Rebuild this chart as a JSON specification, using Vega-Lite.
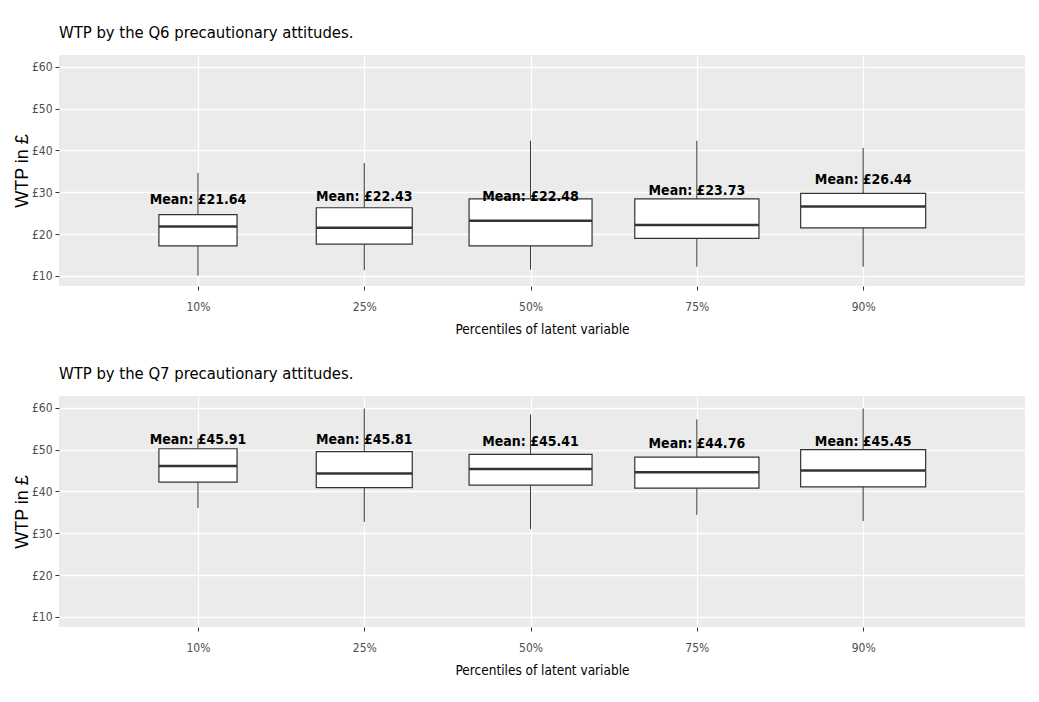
{
  "$schema": "https://vega.github.io/schema/vega-lite/v6.json",
  "background": "white",
  "padding": {"left": 13, "top": 24, "right": 5, "bottom": 5},
  "config": {
    "view": {"fill": "#ebebeb", "stroke": null},
    "font": "DejaVu Sans Condensed, Liberation Sans, sans-serif",
    "concat": {"spacing": 29},
    "title": {"fontSize": 16.5, "fontWeight": "normal", "color": "black", "anchor": "start", "frame": "group", "offset": 14, "font": "DejaVu Sans Condensed, Liberation Sans, sans-serif"},
    "axis": {"domain": false, "labelColor": "#4d4d4d", "labelFontSize": 12, "labelFont": "DejaVu Sans Condensed, Liberation Sans, sans-serif", "tickColor": "#333333", "tickSize": 4, "gridColor": "white", "titleColor": "black", "titleFontWeight": "normal"}
  },
  "datasets": {
    "q6": [
      {"pct": "10%", "lower": 10.1, "q1": 17.2, "median": 21.8, "q3": 24.65, "upper": 34.6, "mean": 21.64, "n": 61, "label": "Mean: £21.64"},
      {"pct": "25%", "lower": 11.4, "q1": 17.6, "median": 21.5, "q3": 26.3, "upper": 37.0, "mean": 22.43, "n": 92, "label": "Mean: £22.43"},
      {"pct": "50%", "lower": 11.5, "q1": 17.2, "median": 23.2, "q3": 28.4, "upper": 42.3, "mean": 22.48, "n": 151, "label": "Mean: £22.48"},
      {"pct": "75%", "lower": 12.2, "q1": 19.0, "median": 22.2, "q3": 28.4, "upper": 42.3, "mean": 23.73, "n": 154, "label": "Mean: £23.73"},
      {"pct": "90%", "lower": 12.2, "q1": 21.5, "median": 26.6, "q3": 29.75, "upper": 40.6, "mean": 26.44, "n": 156, "label": "Mean: £26.44"}
    ],
    "q7": [
      {"pct": "10%", "lower": 36.0, "q1": 42.2, "median": 46.1, "q3": 50.2, "upper": 52.6, "mean": 45.91, "n": 61, "label": "Mean: £45.91"},
      {"pct": "25%", "lower": 32.7, "q1": 40.9, "median": 44.3, "q3": 49.5, "upper": 59.8, "mean": 45.81, "n": 92, "label": "Mean: £45.81"},
      {"pct": "50%", "lower": 31.0, "q1": 41.5, "median": 45.35, "q3": 48.85, "upper": 58.4, "mean": 45.41, "n": 151, "label": "Mean: £45.41"},
      {"pct": "75%", "lower": 34.4, "q1": 40.8, "median": 44.6, "q3": 48.2, "upper": 57.2, "mean": 44.76, "n": 154, "label": "Mean: £44.76"},
      {"pct": "90%", "lower": 32.9, "q1": 41.1, "median": 45.0, "q3": 50.0, "upper": 59.8, "mean": 45.45, "n": 156, "label": "Mean: £45.45"}
    ]
  },
  "vconcat": [
    {
      "width": 966, "height": 231,
      "title": {"text": "WTP by the Q6 precautionary attitudes."},
      "data": {"name": "q6"},
      "encoding": {
        "x": {"field": "pct", "type": "ordinal", "sort": ["10%", "25%", "50%", "75%", "90%"],
              "scale": {"type": "point", "padding": 0.9045, "align": 0.462},
              "axis": {"title": "Percentiles of latent variable", "labelAngle": 0, "grid": true, "gridWidth": 1.2, "labelPadding": 11, "titleFontSize": 13.5, "titlePadding": 10}}
      },
      "layer": [
        {"mark": {"type": "rule", "color": "#333333", "strokeWidth": 1},
         "encoding": {
           "y": {"field": "lower", "type": "quantitative",
                 "scale": {"domain": [7.6, 62.8], "nice": false, "zero": false},
                 "axis": {"title": "WTP in £", "titleFont": "Liberation Sans", "titleFontSize": 18, "titlePadding": 0,
                          "values": [10, 15, 20, 25, 30, 35, 40, 45, 50, 55, 60],
                          "labelExpr": "datum.value % 10 == 0 ? '£' + datum.value : ''",
                          "gridWidth": {"condition": {"test": "datum.value % 10 != 0", "value": 0.7}, "value": 1.3},
                          "tickOpacity": {"condition": {"test": "datum.value % 10 != 0", "value": 0}, "value": 1},
                          "labelPadding": 3}},
           "y2": {"field": "upper"}}},
        {"mark": {"type": "bar", "fill": "white", "stroke": "#333333", "strokeWidth": 1.2},
         "encoding": {
           "y": {"field": "q1", "type": "quantitative"},
           "y2": {"field": "q3"},
           "size": {"field": "n", "type": "quantitative", "scale": {"type": "sqrt", "domain": [0, 156], "range": [0, 125]}, "legend": null}}},
        {"mark": {"type": "tick", "color": "#333333", "thickness": 2.5, "opacity": 1},
         "encoding": {
           "y": {"field": "median", "type": "quantitative"},
           "size": {"field": "n", "type": "quantitative", "legend": null}}},
        {"mark": {"type": "text", "fontWeight": "bold", "fontSize": 14, "dy": -27, "color": "black"},
         "encoding": {
           "y": {"field": "mean", "type": "quantitative"},
           "text": {"field": "label"}}}
      ]
    },
    {
      "width": 966, "height": 231,
      "title": {"text": "WTP by the Q7 precautionary attitudes."},
      "data": {"name": "q7"},
      "encoding": {
        "x": {"field": "pct", "type": "ordinal", "sort": ["10%", "25%", "50%", "75%", "90%"],
              "scale": {"type": "point", "padding": 0.9045, "align": 0.462},
              "axis": {"title": "Percentiles of latent variable", "labelAngle": 0, "grid": true, "gridWidth": 1.2, "labelPadding": 11, "titleFontSize": 13.5, "titlePadding": 10}}
      },
      "layer": [
        {"mark": {"type": "rule", "color": "#333333", "strokeWidth": 1},
         "encoding": {
           "y": {"field": "lower", "type": "quantitative",
                 "scale": {"domain": [7.6, 62.8], "nice": false, "zero": false},
                 "axis": {"title": "WTP in £", "titleFont": "Liberation Sans", "titleFontSize": 18, "titlePadding": 0,
                          "values": [10, 15, 20, 25, 30, 35, 40, 45, 50, 55, 60],
                          "labelExpr": "datum.value % 10 == 0 ? '£' + datum.value : ''",
                          "gridWidth": {"condition": {"test": "datum.value % 10 != 0", "value": 0.7}, "value": 1.3},
                          "tickOpacity": {"condition": {"test": "datum.value % 10 != 0", "value": 0}, "value": 1},
                          "labelPadding": 3}},
           "y2": {"field": "upper"}}},
        {"mark": {"type": "bar", "fill": "white", "stroke": "#333333", "strokeWidth": 1.2},
         "encoding": {
           "y": {"field": "q1", "type": "quantitative"},
           "y2": {"field": "q3"},
           "size": {"field": "n", "type": "quantitative", "scale": {"type": "sqrt", "domain": [0, 156], "range": [0, 125]}, "legend": null}}},
        {"mark": {"type": "tick", "color": "#333333", "thickness": 2.5, "opacity": 1},
         "encoding": {
           "y": {"field": "median", "type": "quantitative"},
           "size": {"field": "n", "type": "quantitative", "legend": null}}},
        {"mark": {"type": "text", "fontWeight": "bold", "fontSize": 14, "dy": -27, "color": "black"},
         "encoding": {
           "y": {"field": "mean", "type": "quantitative"},
           "text": {"field": "label"}}}
      ]
    }
  ]
}
